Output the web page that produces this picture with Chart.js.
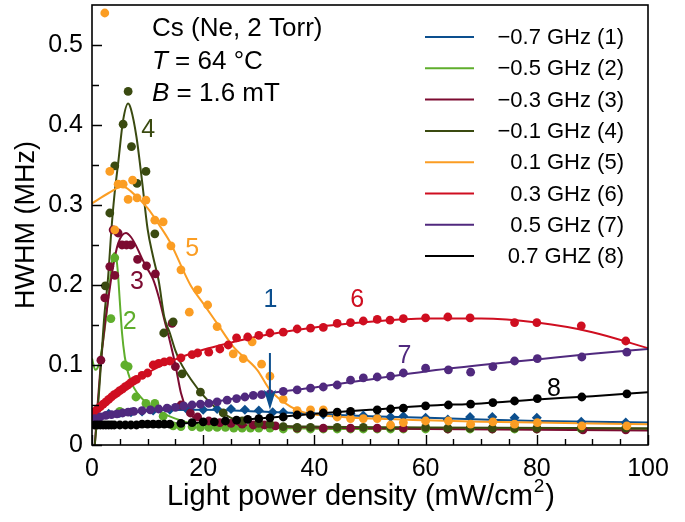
<!DOCTYPE html>
<html lang="en">
<head>
<meta charset="UTF-8">
<title>HWHM vs light power density</title>
<style>
  body { margin: 0; background: #fff; }
  #wrap { width: 685px; height: 522px; }
</style>
<script src="https://cdn.jsdelivr.net/npm/chart.js"></script>
</head>
<body>
<div id="wrap"><canvas id="c" width="685" height="522"></canvas></div>
<script>
// series labels and colours
const names = ['\u22120.7 GHz (1)', '\u22120.5 GHz (2)', '\u22120.3 GHz (3)', '\u22120.1 GHz (4)',
               '0.1 GHz (5)', '0.3 GHz (6)', '0.5 GHz (7)', '0.7 GHZ (8)'];
const colors = ['#0c4f8e', '#5fae2c', '#7c0b31', '#3a4a10', '#fb9d23', '#cf0e20', '#50297e', '#000000'];

// measured points [x, y]
const pts1 = [[1,0.036],[3,0.039],[5,0.040],[7,0.041],[9,0.042],[11,0.043],[14,0.044],[17,0.045],[20,0.044],[22.5,0.045],[25,0.045],[27.5,0.044],[30,0.043],[32.5,0.041],[34.4,0.041],[37,0.039],[39.3,0.040],[41.6,0.038],[44,0.036],[46.5,0.039],[48.8,0.037],[51.3,0.035],[53.7,0.035],[56,0.036],[60,0.034],[64,0.032],[68,0.035],[72,0.035],[76,0.034],[80,0.034],[88,0.029],[96,0.028]];
const pts2 = [[3.4,0.158],[4.1,0.234],[5,0.042],[5.9,0.100],[6.5,0.098],[7.9,0.060],[9.7,0.052],[11.3,0.052],[12.8,0.036],[14.6,0.024],[16,0.023],[18,0.023],[19.5,0.022],[21,0.022],[22.5,0.022],[24,0.022],[25.5,0.021],[27,0.021],[28.5,0.021],[30,0.021],[32,0.021],[34.4,0.020],[36.9,0.020],[39.3,0.020],[41.6,0.020],[44.1,0.020],[46.5,0.020],[48.8,0.020],[51.3,0.020],[53.7,0.020],[56,0.020],[60,0.020],[64,0.020],[68,0.020],[72,0.020],[76,0.020],[80,0.020],[88,0.020],[96,0.020]];
const pts3 = [[1.6,0.106],[2.3,0.184],[3.2,0.223],[3.8,0.269],[4.1,0.212],[4.7,0.265],[5.4,0.250],[6.2,0.250],[7,0.250],[8.2,0.232],[9.8,0.224],[11.4,0.214],[14.4,0.152],[15,0.098],[16,0.050],[17.7,0.040],[19,0.035],[21,0.030],[23,0.028],[25,0.027],[27,0.026],[29,0.025],[31,0.025],[33,0.024],[36.9,0.021],[41.6,0.021],[46.5,0.021],[51.3,0.021],[56,0.021],[64,0.020],[72,0.020],[80,0.020],[88.3,0.019],[96,0.019]];
const pts4 = [[2.4,0.199],[3.2,0.290],[4.1,0.349],[5.6,0.401],[6.5,0.442],[7.1,0.373],[8.1,0.327],[9.7,0.342],[11.3,0.264],[12.9,0.140],[14.6,0.154],[16.2,0.089],[19.5,0.066],[23.6,0.040],[27,0.030],[30,0.027],[32,0.026],[34.4,0.023],[36.9,0.022],[39.3,0.022],[44.1,0.022],[48.8,0.022],[53.7,0.022],[60,0.022],[64,0.021],[68,0.021],[72,0.021],[76,0.021],[80,0.021],[88,0.021],[96,0.021]];
const pts5 = [[2.3,0.540],[3.2,0.342],[4.1,0.269],[4.7,0.326],[5.6,0.326],[6.5,0.307],[7.3,0.331],[8.1,0.309],[9.7,0.306],[11.3,0.281],[12.8,0.279],[14.2,0.249],[16,0.219],[17.5,0.166],[19,0.194],[20.8,0.175],[22.5,0.148],[25.4,0.114],[27.2,0.108],[28.8,0.129],[30.5,0.101],[32,0.086],[34.4,0.057],[36.9,0.043],[39.3,0.044],[41.6,0.044],[44.1,0.035],[46.5,0.033],[48.8,0.033],[51.3,0.033],[53.7,0.025],[56,0.028],[60,0.030],[64.1,0.030],[68.1,0.026],[72.1,0.029],[76,0.026],[80.1,0.028],[88.1,0.024],[96.2,0.024]];
const pts6 = [[0.5,0.042],[1,0.045],[1.5,0.048],[2,0.051],[2.5,0.054],[3,0.057],[3.5,0.060],[4,0.063],[4.5,0.065],[5,0.068],[5.5,0.070],[6,0.073],[6.5,0.075],[7,0.078],[7.5,0.080],[8,0.082],[9,0.087],[10,0.090],[11,0.100],[12,0.102],[13,0.104],[14,0.105],[16,0.109],[18,0.113],[19,0.115],[21,0.116],[23,0.120],[24.5,0.125],[26,0.134],[28,0.135],[30,0.137],[32,0.140],[34.4,0.141],[36.9,0.145],[39.3,0.146],[41.6,0.147],[44.1,0.152],[46.5,0.153],[48.8,0.155],[51.3,0.157],[53.6,0.156],[56,0.158],[60,0.159],[64,0.160],[68,0.159],[76,0.153],[80,0.153],[88,0.149],[96,0.130]];
const pts7 = [[0.5,0.033],[1.5,0.035],[2.5,0.037],[3.5,0.038],[4.5,0.039],[5.5,0.040],[6.5,0.041],[7.5,0.042],[9,0.043],[10.5,0.044],[12,0.045],[13.5,0.046],[15,0.047],[16.5,0.049],[18,0.050],[19.5,0.051],[21,0.052],[22.5,0.054],[24.3,0.056],[26,0.058],[27.5,0.060],[29,0.062],[30.5,0.063],[32,0.064],[34.4,0.067],[36.9,0.069],[39.3,0.071],[41.6,0.0725],[44.1,0.075],[46.5,0.081],[48.8,0.084],[51.3,0.085],[53.7,0.086],[56,0.090],[60,0.096],[64.1,0.094],[68.1,0.091],[72.1,0.098],[76,0.105],[80.1,0.108],[88.1,0.110],[96.2,0.116]];
const pts8 = [[0.5,0.025],[1,0.025],[1.5,0.025],[2,0.025],[2.5,0.025],[3,0.025],[3.5,0.025],[4,0.025],[5,0.025],[6,0.025],[7,0.025],[8,0.025],[9,0.026],[10,0.026],[11,0.026],[12,0.026],[13,0.026],[14,0.026],[16,0.027],[18,0.028],[20,0.029],[22,0.029],[24,0.030],[26,0.031],[28,0.032],[30,0.033],[32,0.034],[34.4,0.035],[36.9,0.0375],[39.3,0.0375],[41.6,0.040],[44.1,0.041],[46.5,0.042],[51.3,0.044],[53.7,0.045],[56,0.046],[60,0.049],[64.1,0.050],[68.1,0.051],[72.1,0.053],[76,0.055],[80.1,0.058],[88.1,0.060],[96.2,0.064]];

// fitted curves [x, y]
const fit1 = [[0,0.034],[5,0.040],[10,0.043],[20,0.044],[30,0.042],[40,0.039],[50,0.036],[60,0.034],[70,0.032],[80,0.030],[90,0.029],[100,0.028]];
const fit2 = [[0,0.108],[0.6,0.094],[1.2,0.100],[2,0.130],[2.7,0.170],[3.3,0.210],[3.8,0.238],[4.2,0.240],[4.6,0.220],[5,0.180],[5.4,0.140],[5.9,0.110],[6.5,0.090],[7.5,0.072],[9,0.058],[11,0.047],[13,0.039],[15,0.033],[18,0.027],[22,0.024],[30,0.022],[50,0.020],[100,0.020]];
const fit3 = [[0.5,0],[1,0.050],[1.5,0.095],[2,0.131],[2.9,0.181],[3.8,0.223],[4.7,0.252],[6.1,0.265],[7,0.260],[8,0.248],[9,0.233],[10,0.220],[11,0.207],[12,0.185],[13,0.157],[14,0.130],[15,0.100],[16,0.065],[17,0.045],[18,0.036],[20,0.030],[25,0.026],[30,0.024],[40,0.022],[60,0.020],[100,0.018]];
const fit4 = [[0.5,0],[1,0.040],[1.6,0.100],[2.2,0.160],[2.9,0.210],[3.5,0.270],[4,0.310],[4.7,0.352],[5.6,0.406],[6.5,0.427],[7,0.420],[8,0.385],[9,0.330],[10,0.270],[11,0.235],[12,0.205],[13,0.160],[14,0.140],[15,0.118],[16,0.102],[18,0.080],[20,0.062],[22,0.048],[25,0.034],[30,0.026],[40,0.023],[60,0.022],[100,0.021]];
const fit5 = [[0,0.302],[3,0.315],[5.5,0.323],[7,0.317],[10,0.296],[12,0.276],[14,0.254],[17.7,0.200],[20,0.177],[22.5,0.152],[25.4,0.123],[29.7,0.094],[32,0.069],[35.7,0.048],[38,0.041],[40,0.038],[45,0.035],[50,0.033],[60,0.031],[70,0.029],[80,0.028],[90,0.027],[100,0.026]];
const fit6 = [[0,0.038],[5,0.065],[10,0.090],[15,0.107],[20,0.119],[25,0.128],[30,0.136],[40,0.147],[50,0.154],[60,0.158],[70,0.158],[80,0.153],[90,0.141],[100,0.121]];
const fit7 = [[0,0.032],[10,0.043],[20,0.052],[30,0.063],[40,0.072],[50,0.082],[60,0.092],[70,0.100],[80,0.107],[90,0.114],[100,0.120]];
const fit8 = [[0,0.025],[10,0.026],[20,0.028],[30,0.033],[40,0.039],[50,0.044],[60,0.049],[70,0.052],[80,0.057],[90,0.061],[100,0.066]];

const allPts = [pts1, pts2, pts3, pts4, pts5, pts6, pts7, pts8];
const allFits = [fit1, fit2, fit3, fit4, fit5, fit6, fit7, fit8];

// curve number labels [x, y] in data units
const curveLabels = [[32.1,0.181],[6.8,0.153],[8.1,0.204],[10.1,0.394],[18.0,0.245],[47.7,0.181],[56.2,0.111],[83.1,0.070]];
const arrowX = 32, arrowFrom = 0.115, arrowTo = 0.044;

const xTickVals = [0, 20, 40, 60, 80, 100];
const yTickVals = [0, 0.1, 0.2, 0.3, 0.4, 0.5];

const FONT = '"Liberation Sans", Arial, Helvetica, sans-serif';

const toXY = arr => arr.map(p => ({ x: p[0], y: p[1] }));

const datasets = [];
for (let i = 0; i < 8; i++) {
  datasets.push({
    label: names[i] + ' fit',
    data: toXY(allFits[i]),
    showLine: true,
    borderColor: colors[i],
    borderWidth: 2,
    pointRadius: 0,
    cubicInterpolationMode: 'monotone',
    order: 20 - i
  });
  datasets.push({
    label: names[i],
    data: toXY(allPts[i]),
    showLine: false,
    pointStyle: i === 0 ? 'rectRot' : 'circle',
    pointRadius: i === 0 ? 5 : 4.4,
    backgroundColor: colors[i],
    borderColor: colors[i],
    borderWidth: 0,
    order: 10 - i
  });
}

const overlay = {
  id: 'overlay',
  afterDatasetsDraw(chart) {
    const ctx = chart.ctx;
    const a = chart.chartArea;
    const xs = chart.scales.x, ys = chart.scales.y;
    ctx.save();
    ctx.strokeStyle = '#000';
    ctx.lineWidth = 1.6;
    ctx.strokeRect(a.left, a.top, a.right - a.left, a.bottom - a.top);
    ctx.lineWidth = 1.4;
    ctx.beginPath();
    for (let v = 0; v <= 100; v += 5) {
      const px = Math.round(xs.getPixelForValue(v)) + 0.5;
      const len = v % 20 === 0 ? 10 : 6;
      ctx.moveTo(px, a.bottom);
      ctx.lineTo(px, a.bottom - len);
    }
    for (let k = 0; k <= 10; k++) {
      const py = Math.round(ys.getPixelForValue(k * 0.05)) + 0.5;
      const len = k % 2 === 0 ? 10 : 7;
      ctx.moveTo(a.left, py);
      ctx.lineTo(a.left + len, py);
    }
    ctx.stroke();

    // arrow for curve 1
    const ax = xs.getPixelForValue(arrowX);
    const y1 = ys.getPixelForValue(arrowFrom), y2 = ys.getPixelForValue(arrowTo);
    ctx.strokeStyle = colors[0];
    ctx.fillStyle = colors[0];
    ctx.lineWidth = 2;
    ctx.beginPath();
    ctx.moveTo(ax, y1);
    ctx.lineTo(ax, y2 - 12);
    ctx.stroke();
    ctx.beginPath();
    ctx.moveTo(ax, y2);
    ctx.lineTo(ax - 6, y2 - 20);
    ctx.lineTo(ax, y2 - 15);
    ctx.lineTo(ax + 6, y2 - 20);
    ctx.closePath();
    ctx.fill();

    // curve numbers
    ctx.font = '25px ' + FONT;
    ctx.textAlign = 'center';
    ctx.textBaseline = 'middle';
    curveLabels.forEach((p, i) => {
      ctx.fillStyle = colors[i];
      ctx.fillText(String(i + 1), xs.getPixelForValue(p[0]), ys.getPixelForValue(p[1]));
    });

    // conditions text
    ctx.fillStyle = '#000';
    ctx.textAlign = 'left';
    const tx = 152;
    ctx.font = '26px ' + FONT;
    ctx.fillText('Cs (Ne, 2 Torr)', tx, 29);
    const rows = [['T', ' = 64 \u00B0C', 62], ['B', ' = 1.6 mT', 94]];
    rows.forEach(r => {
      ctx.font = 'italic 26px ' + FONT;
      ctx.fillText(r[0], tx, r[2]);
      const w = ctx.measureText(r[0]).width;
      ctx.font = '26px ' + FONT;
      ctx.fillText(r[1], tx + w, r[2]);
    });

    // legend
    ctx.font = '22px ' + FONT;
    ctx.textAlign = 'right';
    names.forEach((n, i) => {
      const y = 37 + i * 31.3;
      ctx.strokeStyle = colors[i];
      ctx.lineWidth = 2;
      ctx.beginPath();
      ctx.moveTo(425, y);
      ctx.lineTo(474, y);
      ctx.stroke();
      ctx.fillStyle = '#000';
      ctx.fillText(n, 624, y + 1);
    });

    // x axis title with superscript
    const cx = 360, ty = 497;
    const main = 'Light power density (mW/cm', sup = '2', tail = ')';
    ctx.font = '29px ' + FONT;
    const wMain = ctx.measureText(main).width, wTail = ctx.measureText(tail).width;
    ctx.font = '19px ' + FONT;
    const wSup = ctx.measureText(sup).width;
    let sx = cx - (wMain + wSup + wTail) / 2;
    ctx.fillStyle = '#000';
    ctx.textAlign = 'left';
    ctx.font = '29px ' + FONT;
    ctx.fillText(main, sx, ty);
    sx += wMain;
    ctx.font = '19px ' + FONT;
    ctx.fillText(sup, sx + 1, ty - 10);
    sx += wSup + 2;
    ctx.font = '29px ' + FONT;
    ctx.fillText(tail, sx, ty);
    ctx.restore();
  }
};

new Chart(document.getElementById('c'), {
  type: 'scatter',
  data: { datasets: datasets },
  options: {
    responsive: false,
    animation: false,
    layout: { padding: { top: 4, right: 37, left: 0, bottom: 0 } },
    plugins: { legend: { display: false }, tooltip: { enabled: false } },
    scales: {
      x: {
        type: 'linear', min: 0, max: 100,
        grid: { display: false, drawTicks: false },
        border: { display: false },
        afterFit: s => { s.height = 77; s.paddingLeft = 0; s.paddingRight = 0; },
        afterBuildTicks: s => { s.ticks = xTickVals.map(v => ({ value: v })); },
        ticks: { padding: 9, color: '#000', font: { family: FONT, size: 25 }, maxRotation: 0 },
        title: { display: false }
      },
      y: {
        type: 'linear', min: 0, max: 0.55,
        grid: { display: false, drawTicks: false },
        border: { display: false },
        afterFit: s => { s.width = 92; s.paddingTop = 0; s.paddingBottom = 0; },
        afterBuildTicks: s => { s.ticks = yTickVals.map(v => ({ value: v })); },
        ticks: { padding: 9, color: '#000', font: { family: FONT, size: 25 },
                 callback: v => v === 0 ? '0' : v.toFixed(1) },
        title: { display: true, text: 'HWHM (MHz)', color: '#000',
                 font: { family: FONT, size: 27 }, padding: { top: 10, bottom: 2 } }
      }
    }
  },
  plugins: [overlay]
});
</script>
</body>
</html>
